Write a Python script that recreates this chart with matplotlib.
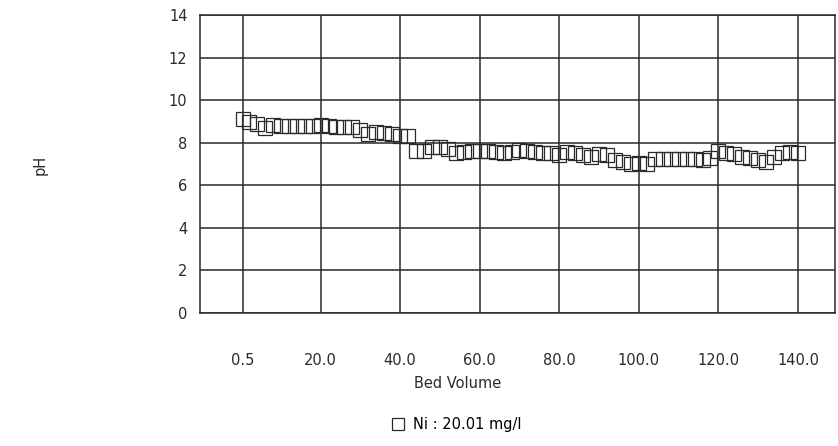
import numpy as np
import matplotlib.pyplot as plt
from matplotlib.lines import Line2D

plt.rcParams['font.family'] = ['DejaVu Sans']

# Data
bed_volume = [0.5] + list(range(2, 141, 2))
ph = [9.1, 8.95, 8.9, 8.7, 8.85, 8.8, 8.8, 8.8, 8.8, 8.8,
      8.85, 8.8, 8.75, 8.75, 8.75, 8.6, 8.4, 8.5, 8.45, 8.4,
      8.3, 8.3, 7.6, 7.6, 7.8, 7.8, 7.7, 7.5, 7.55, 7.6,
      7.6, 7.6, 7.55, 7.5, 7.55, 7.65, 7.6, 7.55, 7.5, 7.5,
      7.4, 7.55, 7.5, 7.4, 7.35, 7.45, 7.4, 7.2, 7.1, 7.0,
      7.05, 7.0, 7.25, 7.25, 7.25, 7.25, 7.25, 7.25, 7.2, 7.3,
      7.6, 7.5, 7.45, 7.35, 7.3, 7.2, 7.1, 7.35, 7.5, 7.55, 7.5]
xticks = [0.5, 20, 40, 60, 80, 100, 120, 140]
xlabels = ['0.5', '20.0', '40.0', '60.0', '80.0', '100.0', '120.0', '140.0']
yticks = [0, 2, 4, 6, 8, 10, 12, 14]
series_name = 'Ni : 20.01 mg/l'

ink = '#2a2a2a'
fig = plt.figure(figsize=(8.38, 4.46), dpi=100)
ax = fig.add_axes([200 / 838, 1 - 313 / 446, 635 / 838, 298 / 446])

ax.plot(bed_volume, ph, linestyle='none', marker='s', markersize=9.5,
        markerfacecolor='none', markeredgecolor=ink, markeredgewidth=0.9)

ax.set_xlim(-10.3, 149.3)
ax.set_ylim(0, 14)
ax.set_xticks(xticks)
ax.set_xticklabels(xlabels)
ax.set_yticks(yticks)
ax.grid(True, color=ink, linewidth=1.1)
for s in ax.spines.values():
    s.set_color(ink)
    s.set_linewidth(1.1)
ax.tick_params(axis='x', length=0, pad=29, labelsize=10.5, colors=ink)
ax.tick_params(axis='y', length=0, pad=9, labelsize=10.5, colors=ink)

fig.text(40 / 838, 1 - 165 / 446, 'pH', rotation=90, ha='center', va='center',
         fontsize=10.5, color=ink)
fig.text(458 / 838, 1 - 383 / 446, 'Bed Volume', ha='center', va='center',
         fontsize=10.5, color=ink)

handle = Line2D([], [], linestyle='none', marker='s', markersize=8,
                markerfacecolor='none', markeredgecolor=ink, markeredgewidth=0.9)
fig.legend([handle], [series_name], loc='center', bbox_to_anchor=(456 / 838, 1 - 425 / 446),
           frameon=False, fontsize=10.5, handletextpad=0.5, handlelength=1.0)

fig.savefig('out.png', dpi=100)
